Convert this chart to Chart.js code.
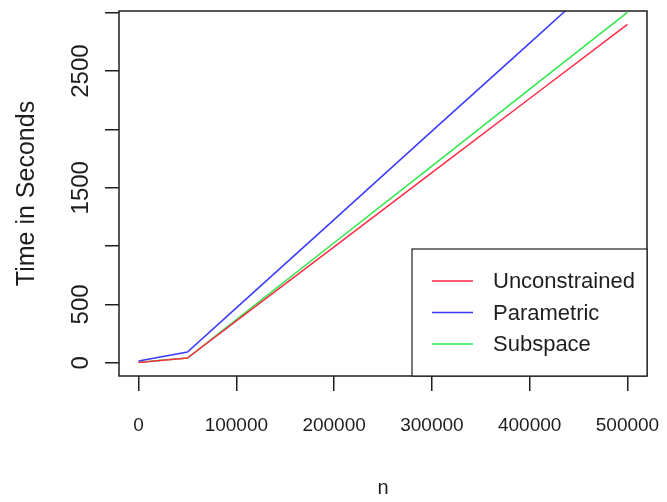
<!DOCTYPE html>
<html>
<head>
<meta charset="utf-8">
<script src="https://cdn.jsdelivr.net/npm/chart.js@4/dist/chart.umd.min.js"></script>
<style>
  html, body { margin: 0; padding: 0; background: #fff; }
  #wrap { width: 667px; height: 502px; }
</style>
</head>
<body>
<div id="wrap"><canvas id="myChart"></canvas></div>
<script>
// data
var n_values = [0, 50000, 100000, 200000, 300000, 400000, 500000];
var unconstrained = [2, 40, 358, 993, 1630, 2265, 2900];
var parametric = [15, 92, 470, 1227, 1985, 2740, 3497];
var subspace = [3, 40, 370, 1028, 1685, 2345, 3003];

var series_names = ['Unconstrained', 'Parametric', 'Subspace'];
var series_colors = ['#ff2a45', '#3a3aff', '#2ee84a'];

var x_ticks = [0, 100000, 200000, 300000, 400000, 500000];
var y_ticks = [0, 500, 1000, 1500, 2000, 2500, 3000];
var y_tick_labels = ['0', '500', '', '1500', '', '2500', ''];

function toPoints(ys) {
  return n_values.map(function(x, i) { return {x: x, y: ys[i]}; });
}

var all_series = [unconstrained, parametric, subspace];
var dataset = [];
for (var i = 0; i < all_series.length; i++) {
  dataset.push({
    label: series_names[i],
    data: toPoints(all_series[i]),
    borderColor: series_colors[i],
    backgroundColor: series_colors[i],
    borderWidth: 1.5,
    pointRadius: 0,
    tension: 0
  });
}

var textColor = '#1e1e1e';
var fontFam = '"Liberation Sans", Arial, sans-serif';

// box, rotated y labels and legend, drawn like R does it
var rStuff = {
  id: 'rStuff',
  afterDatasetsDraw: function(chart) {
    var c = chart.ctx;
    var a = chart.chartArea;
    var ys = chart.scales.y;
    c.save();
    c.strokeStyle = textColor;
    c.lineWidth = 1.5;
    c.strokeRect(a.left, a.top, a.right - a.left, a.bottom - a.top);

    // y tick labels (vertical)
    c.fillStyle = textColor;
    c.font = '24px ' + fontFam;
    c.textAlign = 'center';
    c.textBaseline = 'alphabetic';
    for (var i = 0; i < y_ticks.length; i++) {
      if (!y_tick_labels[i]) continue;
      c.save();
      c.translate(88, ys.getPixelForValue(y_ticks[i]));
      c.rotate(-Math.PI / 2);
      c.fillText(y_tick_labels[i], 0, 0);
      c.restore();
    }

    // legend
    var lx = 412, ly = 249;
    c.fillStyle = '#fff';
    c.fillRect(lx, ly, a.right - lx, a.bottom - ly);
    c.lineWidth = 1.2;
    c.strokeStyle = textColor;
    c.strokeRect(lx, ly, a.right - lx, a.bottom - ly);
    c.font = '22px ' + fontFam;
    c.textAlign = 'left';
    c.textBaseline = 'middle';
    chart.data.datasets.forEach(function(ds, k) {
      var yy = 281 + k * 31.5;
      c.strokeStyle = ds.borderColor;
      c.lineWidth = 1.5;
      c.beginPath();
      c.moveTo(432, yy);
      c.lineTo(473, yy);
      c.stroke();
      c.fillStyle = textColor;
      c.fillText(ds.label, 493, yy + 1);
    });
    c.restore();
  }
};

var ctx = document.getElementById('myChart').getContext('2d');
var myChart = new Chart(ctx, {
  type: 'line',
  data: {
    datasets: dataset
  },
  options: {
    responsive: true,
    maintainAspectRatio: false,
    animation: false,
    layout: { padding: { top: 11, right: 20, left: 0, bottom: 0 } },
    plugins: {
      legend: { display: false },
      tooltip: { enabled: false }
    },
    scales: {
      x: {
        type: 'linear',
        min: -20000,
        max: 520000,
        afterBuildTicks: function(s) {
          s.ticks = x_ticks.map(function(v) { return {value: v}; });
        },
        afterFit: function(s) {
          s.height = 126;
          s.paddingLeft = 0;
          s.paddingRight = 0;
        },
        border: { display: false },
        grid: {
          drawOnChartArea: false,
          drawTicks: true,
          tickLength: 15,
          color: textColor,
          lineWidth: 1.5
        },
        ticks: {
          padding: 23,
          maxRotation: 0,
          color: textColor,
          font: { size: 19, family: fontFam },
          callback: function(v) { return String(v); }
        },
        title: {
          display: true,
          text: 'n',
          color: textColor,
          font: { size: 20, family: fontFam },
          padding: { top: 0, bottom: 1.5 }
        }
      },
      y: {
        type: 'linear',
        min: -114,
        max: 3015,
        afterBuildTicks: function(s) {
          s.ticks = y_ticks.map(function(v) { return {value: v}; });
        },
        afterFit: function(s) {
          s.width = 119;
          s.paddingTop = 0;
          s.paddingBottom = 0;
        },
        border: { display: false },
        grid: {
          drawOnChartArea: false,
          drawTicks: true,
          tickLength: 14,
          color: textColor,
          lineWidth: 1.5
        },
        ticks: { display: false },
        title: {
          display: true,
          text: 'Time in Seconds',
          color: textColor,
          font: { size: 25, family: fontFam },
          padding: { top: 12, bottom: 0 }
        }
      }
    }
  },
  plugins: [rStuff]
});
</script>
</body>
</html>
